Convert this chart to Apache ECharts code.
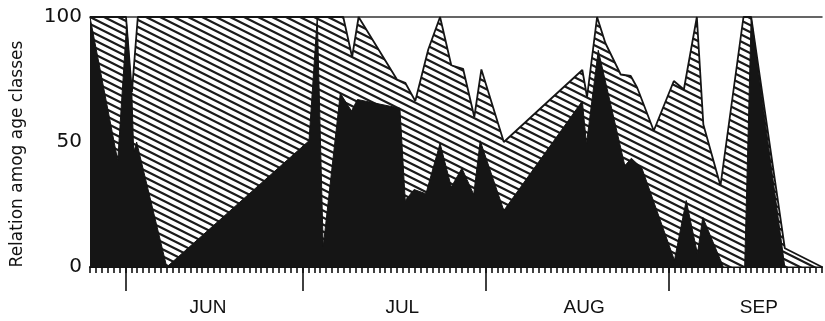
<!DOCTYPE html>
<html>
<head>
<meta charset="utf-8">
<script src="https://cdn.jsdelivr.net/npm/echarts@6/dist/echarts.min.js"></script>
<style>
  html, body { margin: 0; padding: 0; background: #fff; }
  #chart { width: 825px; height: 321px; }
</style>
</head>
<body>
<div id="chart"></div>
<script>
// Days counted from 1 June (day 0); axis runs from 26 May to late September.
const upperDays = [-6, 0.1, 1.1, 2.1, 36.9, 38.4, 39.5, 46.0, 47.4, 49.1, 51.3, 53.3, 55.2, 57.2, 59.1, 60.3, 64.1, 77.4, 78.2, 79.9, 81.3, 83.9, 85.6, 86.7, 89.5, 92.9, 94.6, 96.8, 97.9, 100.8, 104.7, 106.0, 111.7, 118];
const upperVals = [100, 100, 70, 100, 100, 84, 100, 75, 73.7, 66.4, 87, 100, 80.7, 79.3, 60, 79, 50, 78.8, 68, 100, 89.6, 77, 76.4, 71.7, 54.5, 74.4, 71, 100, 57, 32.5, 100, 100, 7.5, 0];

const lowerDays = [-6, -1.3, 0.2, 1.1, 1.4, 1.9, 7.0, 31.1, 32.5, 33.5, 36.4, 38.3, 39.3, 46.5, 47.4, 48.9, 50.9, 53.3, 55.2, 57.0, 59.0, 60.1, 64.1, 77.4, 78.1, 80.1, 84.6, 85.7, 87.5, 93.0, 95.0, 96.9, 97.8, 101.3, 104.9, 106.0, 111.7, 118];
const lowerVals = [100, 42.5, 97, 69, 46, 50, 0, 50.5, 100, 8, 69.5, 62.4, 67, 63.5, 26.6, 31, 29.3, 49.5, 32, 39.5, 29, 50.5, 22.6, 66.4, 49.2, 86.7, 40.5, 43.5, 39.5, 2.7, 26.6, 5.3, 19.9, 0, 0, 100, 0, 0];

const monthStartDays = [0, 30, 61, 92];
const monthNames = ['JUN', 'JUL', 'AUG', 'SEP'];
const monthLabelDays = [14, 46.9, 77.7, 107.3];
const yTicks = [0, 50, 100];
const yTitle = 'Relation amog age classes';

function makeHatch() {
  const c = document.createElement('canvas');
  c.width = 14; c.height = 7;
  const g = c.getContext('2d');
  g.fillStyle = '#ffffff';
  g.fillRect(0, 0, 14, 7);
  g.strokeStyle = '#1a1a1a';
  g.lineWidth = 2.2;
  [-7, 0, 7].forEach(function (off) {
    g.beginPath(); g.moveTo(-1, off - 0.5); g.lineTo(15, off + 7.5); g.stroke();
  });
  return c;
}

const upperData = upperDays.map((d, i) => [d, upperVals[i]]);
const lowerData = lowerDays.map((d, i) => [d, lowerVals[i]]);

const chart = echarts.init(document.getElementById('chart'), null, { renderer: 'canvas' });
chart.setOption({
  animation: false,
  backgroundColor: '#ffffff',
  grid: { left: 90, right: 3, top: 17, bottom: 54 },
  xAxis: [
    {
      type: 'value', min: -6, max: 118, interval: 1, position: 'bottom',
      axisLine: { show: true, onZero: false, lineStyle: { color: '#111', width: 2 } },
      axisTick: { show: true, length: 6, lineStyle: { color: '#111', width: 1.6 } },
      axisLabel: { show: false },
      splitLine: { show: false }
    },
    {
      type: 'value', min: -6, max: 118, position: 'bottom',
      axisLine: { show: false, onZero: false },
      axisTick: { show: true, length: 24, customValues: monthStartDays, lineStyle: { color: '#111', width: 1.6 } },
      axisLabel: {
        show: true, customValues: monthLabelDays, margin: 31,
        fontFamily: 'Liberation Sans', fontSize: 19, color: '#111',
        formatter: function (v) {
          let best = 0;
          monthLabelDays.forEach((d, i) => { if (Math.abs(d - v) < Math.abs(monthLabelDays[best] - v)) best = i; });
          return monthNames[best];
        }
      },
      splitLine: { show: false }
    },
    {
      type: 'value', min: -6, max: 118, position: 'top',
      axisLine: { show: true, onZero: false, lineStyle: { color: '#333', width: 1.5 } },
      axisTick: { show: false }, axisLabel: { show: false }, splitLine: { show: false }
    }
  ],
  yAxis: {
    type: 'value', min: 0, max: 100, interval: 50,
    name: yTitle, nameLocation: 'middle', nameGap: 64,
    nameTextStyle: { fontFamily: 'DejaVu Sans', fontSize: 17, color: '#111', padding: [0, 24, 0, 0] },
    axisLine: { show: true, lineStyle: { color: '#111', width: 1.5 } },
    axisTick: { show: true, length: 8, lineStyle: { color: '#111', width: 2 } },
    axisLabel: {
      margin: 8, fontFamily: 'DejaVu Sans', fontSize: 20, color: '#111',
      customValues: yTicks
    },
    splitLine: { show: false }
  },
  series: [
    {
      type: 'line', xAxisIndex: 0, data: upperData, symbol: 'none', smooth: false,
      lineStyle: { color: '#151515', width: 1.8 },
      areaStyle: { color: { image: makeHatch(), repeat: 'repeat' }, opacity: 1 },
      z: 2
    },
    {
      type: 'line', xAxisIndex: 0, data: lowerData, symbol: 'none', smooth: false,
      lineStyle: { color: '#151515', width: 1 },
      areaStyle: { color: '#151515', opacity: 1 },
      z: 3
    }
  ]
});
</script>
</body>
</html>
